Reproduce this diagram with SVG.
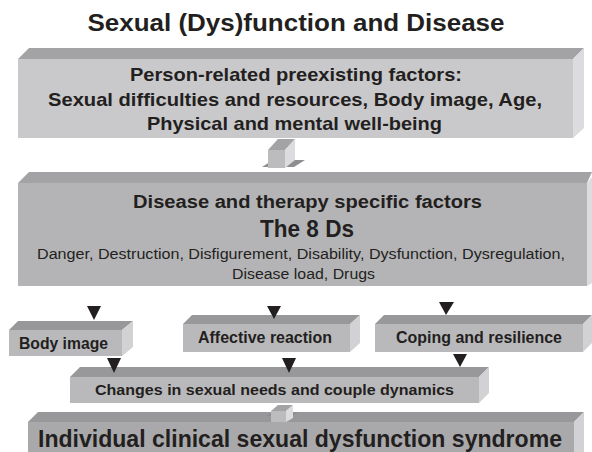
<svg xmlns="http://www.w3.org/2000/svg" width="592" height="452" viewBox="0 0 592 452">
<style>
text{font-family:"Liberation Sans",Arial,sans-serif;fill:#231f20;text-anchor:middle}
.b{font-weight:bold}
.tp{fill:#a3a3a5}
.sd{fill:#dcdcde}
.f1{fill:#c9c9cb}
.f2{fill:#b4b4b6}
.fs{fill:#b9b9bb}
.fb{fill:#a9a9ab}
.tp2{fill:#98989a}
.sd2{fill:#d2d2d4}
.arr{fill:#231f20}
</style>
<rect width="592" height="452" fill="#ffffff"/>
<text class="b" x="296" y="31" font-size="23" textLength="417" lengthAdjust="spacingAndGlyphs">Sexual (Dys)function and Disease</text>

<g id="box1">
<polygon class="tp" points="18,59 29,48 584,48 573,59"/>
<polygon class="sd" points="573,59 584,48 584,128 573,138"/>
<rect class="f1" x="18" y="59" width="555" height="79"/>
<text class="b" x="296" y="81" font-size="18.5" textLength="332" lengthAdjust="spacingAndGlyphs">Person-related preexisting factors:</text>
<text class="b" x="295" y="106" font-size="18.5" textLength="494" lengthAdjust="spacingAndGlyphs">Sexual difficulties and resources, Body image, Age,</text>
<text class="b" x="294.5" y="130" font-size="18.5" textLength="295" lengthAdjust="spacingAndGlyphs">Physical and mental well-being</text>
</g>

<g id="box2">
<polygon class="tp" points="18,183 29,172 592,172 587,183"/>
<polygon class="sd" points="587,183 592,177 592,283 587,286"/>
<rect class="f2" x="18" y="183" width="569" height="103"/>
<text class="b" x="307.5" y="208" font-size="18" textLength="349" lengthAdjust="spacingAndGlyphs">Disease and therapy specific factors</text>
<text class="b" x="307" y="237" font-size="24" textLength="94" lengthAdjust="spacingAndGlyphs">The 8 Ds</text>
<text x="301" y="259" font-size="15.5" textLength="528" lengthAdjust="spacingAndGlyphs">Danger, Destruction, Disfigurement, Disability, Dysfunction, Dysregulation,</text>
<text x="303.5" y="279" font-size="15.5" textLength="143" lengthAdjust="spacingAndGlyphs">Disease load, Drugs</text>
</g>

<g id="body-image">
<polygon class="tp2" points="9,330 18,321 133,321 122,330"/>
<polygon class="sd2" points="122,330 133,321 133,347 122,356"/>
<rect class="fs" x="9" y="330" width="113" height="26"/>
<text class="b" x="63.5" y="349" font-size="16" textLength="89" lengthAdjust="spacingAndGlyphs">Body image</text>
</g>

<g id="affective-reaction">
<polygon class="tp2" points="183,324 192,315 360,315 350,324"/>
<polygon class="sd2" points="350,324 360,315 360,343 350,352"/>
<rect class="fs" x="183" y="324" width="167" height="28"/>
<text class="b" x="265" y="343" font-size="16" textLength="134" lengthAdjust="spacingAndGlyphs">Affective reaction</text>
</g>

<g id="coping">
<polygon class="tp2" points="375,324 384,315 592,315 583,324"/>
<polygon class="sd2" points="583,324 592,315 592,343 583,352"/>
<rect class="fs" x="375" y="324" width="208" height="28"/>
<text class="b" x="479" y="343" font-size="16" textLength="166" lengthAdjust="spacingAndGlyphs">Coping and resilience</text>
</g>

<g id="changes">
<polygon class="tp2" points="70,377 80,367 489,367 479,377"/>
<polygon class="sd2" points="479,377 489,367 489,393 479,403"/>
<rect class="fs" x="70" y="377" width="409" height="26"/>
<text class="b" x="274.5" y="395" font-size="15.5" textLength="359" lengthAdjust="spacingAndGlyphs">Changes in sexual needs and couple dynamics</text>
</g>

<g id="syndrome">
<polygon class="tp2" points="28,422 38,412 584,412 574,422"/>
<polygon class="sd2" points="574,422 584,412 584,452 574,452"/>
<rect class="fb" x="28" y="422" width="546" height="30"/>
<text class="b" x="300" y="447" font-size="24" textLength="524" lengthAdjust="spacingAndGlyphs">Individual clinical sexual dysfunction syndrome</text>
</g>

<g id="connectors">
<g id="conn-1-2">
<polygon fill="#8e8e90" points="262,167 273,160 305,160 294,167"/>
<polygon class="tp" points="268,150 278,139 295,139 285,150"/>
<polygon class="sd" points="285,150 295,139 295,160 285,168"/>
<rect fill="#bcbcbe" x="268" y="150" width="17" height="18"/>
</g>
<g id="conn-changes-syndrome">
<polygon fill="#8e8e90" points="266,416 274,412 299,412 291,416"/>
<polygon class="tp" points="271,411 278,405 293,405 286,411"/>
<polygon class="sd" points="286,411 293,405 293,418 286,422"/>
<rect fill="#bcbcbe" x="271" y="411" width="15" height="11"/>
</g>
<polygon class="arr" points="87,306 101,306 94,320"/>
<polygon class="arr" points="267,306 281,306 274,319"/>
<polygon class="arr" points="439,302 454,302 446,315"/>
<polygon class="arr" points="107,358 121,358 114,373"/>
<polygon class="arr" points="282,358 296,358 289,373"/>
<polygon class="arr" points="453,354 467,354 460,367"/>
</g>
</svg>
